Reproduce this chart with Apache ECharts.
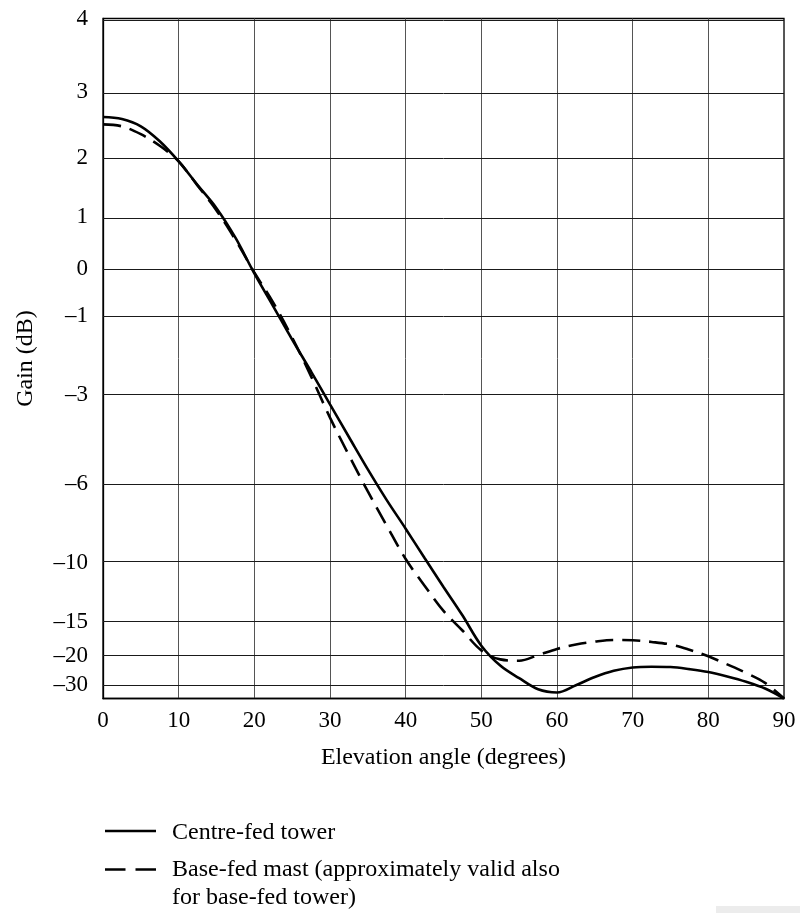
<!DOCTYPE html>
<html>
<head>
<meta charset="utf-8">
<title>Elevation pattern</title>
<script src="https://cdn.jsdelivr.net/npm/echarts@6/dist/echarts.min.js"></script>
<style>
  html, body { margin: 0; padding: 0; background: #fff; }
  #chart { width: 800px; height: 913px; }
</style>
</head>
<body>
<div id="chart"></div>
<script>
// Elevation angle (degrees)
const angles = [0, 2.5, 5, 7.5, 10, 12.5, 15, 17.5, 20, 22.5, 25, 27.5, 30, 32.5, 35, 37.5,
  40, 42.5, 45, 47.5, 50, 52.5, 55, 57.5, 60, 62.5, 65, 67.5, 70, 72.5, 75, 77.5, 80, 82.5,
  85, 87.5, 90];

// Gain (dB), centre-fed tower
const centreFedGain = [2.64, 2.61, 2.5, 2.27, 1.95, 1.56, 1.16, 0.62, -0.08, -0.78, -1.55,
  -2.36, -3.28, -4.3, -5.45, -6.7, -8.05, -9.7, -11.7, -14.25, -18.2, -22.3, -26.5, -33.3,
  -37, -30.2, -26.0, -23.8, -22.8, -22.6, -22.7, -23.3, -24.2, -25.8, -28.2, -32.7, -Infinity];

// Gain (dB), base-fed mast
const baseFedGain = [2.53, 2.5, 2.38, 2.2, 1.95, 1.55, 1.12, 0.58, -0.06, -0.7, -1.5,
  -2.49, -3.68, -4.93, -6.33, -7.9, -9.76, -11.6, -13.8, -16.0, -19.0, -20.8, -21.1, -19.9,
  -18.75, -18.0, -17.55, -17.3, -17.35, -17.6, -18.0, -18.9, -20.15, -22.0, -24.5, -28.8, -Infinity];

// Labelled gain levels on the vertical axis (dB)
const gainTicks = [4, 3, 2, 1, 0, -1, -3, -6, -10, -15, -20, -30];

const seriesNames = ['Centre-fed tower', 'Base-fed mast (approximately valid also\nfor base-fed tower)'];

// The gain axis is linear in relative field strength: E/E0 = 10^(dB/20)
const toField = db => Math.pow(10, db / 20);
const fieldToLabel = v => {
  const db = Math.round(20 * Math.log10(v));
  return db < 0 ? '\u2013' + (-db) : String(db);
};

const FONT = "'Liberation Serif', 'Times New Roman', serif";
const fieldTicks = gainTicks.map(toField);

const pairs = gains => angles.map((a, i) => [a, toField(gains[i])]);

const chart = echarts.init(document.getElementById('chart'), null, { renderer: 'canvas' });

chart.setOption({
  animation: false,
  backgroundColor: '#fff',
  grid: {
    left: 103, right: 16, top: 18.5, height: 680,
    show: true, borderColor: '#000', borderWidth: 1.3, backgroundColor: 'transparent'
  },
  xAxis: {
    type: 'value', min: 0, max: 90, interval: 10,
    name: 'Elevation angle (degrees)', nameLocation: 'middle', nameGap: 47,
    nameTextStyle: { fontFamily: FONT, fontSize: 24, color: '#000' },
    axisLine: { show: true, lineStyle: { color: '#000', width: 1.3 } },
    axisTick: { show: false },
    axisLabel: { fontFamily: FONT, fontSize: 23, color: '#000', margin: 11 },
    splitLine: { show: true, lineStyle: { color: '#555', width: 1 } }
  },
  yAxis: {
    type: 'value', min: 0, max: toField(4),
    name: 'Gain (dB)', nameLocation: 'middle', nameGap: 65,
    nameTextStyle: { fontFamily: FONT, fontSize: 24, color: '#000' },
    axisLine: { show: true, lineStyle: { color: '#000', width: 1.3 } },
    axisTick: { show: false, customValues: fieldTicks },
    axisLabel: {
      fontFamily: FONT, fontSize: 23, color: '#000', margin: 15,
      customValues: fieldTicks,
      formatter: fieldToLabel
    },
    splitLine: { show: false }
  },
  series: [
    {
      name: seriesNames[0], type: 'line', data: pairs(centreFedGain),
      smooth: 0.35, symbol: 'none', silent: true,
      lineStyle: { color: '#000', width: 2.6 },
      z: 5,
      markLine: {
        silent: true, symbol: ['none', 'none'], label: { show: false },
        lineStyle: { color: '#1a1a1a', width: 1, type: 'solid' },
        emphasis: { disabled: true },
        data: fieldTicks.map(v => ({ yAxis: v })),
        z: 1
      }
    },
    {
      name: seriesNames[1], type: 'line', data: pairs(baseFedGain),
      smooth: 0.35, symbol: 'none', silent: true,
      lineStyle: { color: '#000', width: 2.6, type: [18, 9] },
      z: 4
    }
  ],
  graphic: [
    { type: 'line', shape: { x1: 105, y1: 831, x2: 156, y2: 831 },
      style: { stroke: '#000', lineWidth: 2.6 } },
    { type: 'text', x: 172, y: 833,
      style: { text: seriesNames[0], font: '24px ' + FONT, fill: '#000', verticalAlign: 'middle' } },
    { type: 'line', shape: { x1: 105, y1: 869.5, x2: 156, y2: 869.5 },
      style: { stroke: '#000', lineWidth: 2.6, lineDash: [20.5, 10] } },
    { type: 'text', x: 172, y: 856,
      style: { text: seriesNames[1], font: '24px ' + FONT, fill: '#000', verticalAlign: 'top', lineHeight: 28 } },
    { type: 'rect', shape: { x: 716, y: 906, width: 84, height: 7 },
      style: { fill: '#ececec' } }
  ]
});
</script>
</body>
</html>
